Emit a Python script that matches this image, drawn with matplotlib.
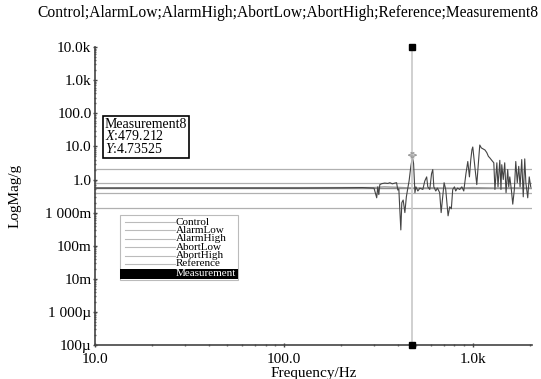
import matplotlib
matplotlib.use("Agg")
import matplotlib.pyplot as plt
from matplotlib.patches import Rectangle
from matplotlib.lines import Line2D

plt.rcParams['font.family'] = ['Liberation Serif', 'DejaVu Serif']
plt.rcParams['mathtext.fontset'] = 'custom'
plt.rcParams['mathtext.rm'] = 'Liberation Serif'
plt.rcParams['mathtext.it'] = 'Liberation Serif:italic'

# limit lines (g)
reference = 0.55
alarm_low, alarm_high = 0.39, 0.76
abort_low, abort_high = 0.138, 2.1

meas_freq = [10, 50, 120, 200, 260, 300, 310, 314, 318, 322, 330, 342, 355, 364,
             375, 387, 395, 401, 406, 411, 416, 421, 428, 437, 445, 453, 460, 470,
             479, 486, 494, 500, 512, 525, 544, 557, 570, 578, 592, 605, 614, 622,
             637, 650, 668, 680, 693, 705, 719, 740, 755, 770, 783, 800, 812, 830,
             853, 875, 896, 920, 941, 960, 976, 990, 1000, 1025, 1050, 1070, 1089,
             1110, 1130, 1160, 1186, 1210, 1231, 1260, 1292, 1310, 1341, 1360, 1390,
             1410, 1424, 1450, 1476, 1500, 1531, 1550, 1570, 1600, 1628, 1660, 1689,
             1720, 1751, 1780, 1816, 1850, 1884, 1910, 1954, 1990, 2027]
meas_val = [0.55, 0.55, 0.55, 0.56, 0.57, 0.55, 0.28, 0.6, 0.35, 0.7, 0.75, 0.78,
            0.76, 0.8, 0.74, 0.78, 0.8, 0.48, 0.52, 0.12, 0.03, 0.2, 0.24, 0.1,
            0.3, 0.55, 0.9, 2.5, 4.74, 3.0, 0.4, 0.6, 0.45, 0.55, 0.5, 0.9, 1.2,
            0.6, 0.5, 1.5, 2.0, 0.6, 0.45, 0.55, 0.4, 0.1, 0.3, 0.8, 0.5, 0.08,
            0.15, 0.13, 0.5, 0.6, 0.45, 0.55, 0.5, 0.6, 0.45, 1.5, 3.5, 1.2, 4.0,
            8.0, 9.6, 2.5, 0.7, 3.0, 11.0, 9.0, 8.5, 7.8, 6.5, 5.0, 4.5, 3.8, 3.2,
            0.5, 3.2, 0.6, 3.8, 0.5, 2.8, 1.0, 3.2, 0.4, 2.0, 0.6, 1.2, 0.5, 0.18,
            0.5, 3.5, 0.8, 2.5, 0.6, 4.0, 0.3, 4.2, 0.8, 0.28, 1.2, 0.6]

control_freq = [10, 300, 340, 400, 480, 600, 800, 1000, 1300, 1600, 2048]
control_val = [0.56, 0.57, 0.6, 0.58, 0.55, 0.56, 0.54, 0.57, 0.55, 0.56, 0.55]

cursor_x, cursor_y = 479.212, 4.73525

y_ticks = [1e-5, 1e-4, 1e-3, 1e-2, 1e-1, 1, 10, 100, 1e3, 1e4]
y_labels = ['100\u00b5', '1 000\u00b5', '10m', '100m', '1 000m', '1.0', '10.0',
            '100.0', '1.0k', '10.0k']
x_ticks = [10, 100, 1000]
x_labels = ['10.0', '100.0', '1.0k']
legend_names = ['Control', 'AlarmLow', 'AlarmHigh', 'AbortLow', 'AbortHigh',
                'Reference', 'Measurement']

fig = plt.figure(figsize=(5.41, 3.79), dpi=100)
ax = fig.add_axes([0.1756, 0.0897, 0.807, 0.786])
ax.set_xscale('log')
ax.set_yscale('log')
ax.set_xlim(10, 2048)
ax.set_ylim(1e-5, 1e4)

lim_col = '#b0b0b0'
for v in (alarm_low, alarm_high, abort_low, abort_high):
    ax.axhline(v, color=lim_col, lw=0.9)
ax.axhline(reference, color='#8a8a8a', lw=1.0)
ax.plot(control_freq, control_val, color='#9a9a9a', lw=1.0)
ax.plot(meas_freq, meas_val, color='#444444', lw=0.8)

# cursor
ax.axvline(cursor_x, color='#c8c8c8', lw=1.2)
ax.plot([cursor_x, cursor_x], [1e4, 1e-5], ls='none', marker='s', ms=5,
        color='black', clip_on=False, zorder=5)
ax.annotate('', xy=(cursor_x * 1.1, cursor_y * 1.15), xytext=(cursor_x / 1.1, cursor_y * 1.15),
            arrowprops=dict(arrowstyle='<->', color='#999999', lw=0.7))

for s in ('top', 'right'):
    ax.spines[s].set_visible(False)
for s in ('left', 'bottom'):
    ax.spines[s].set_color('#444444')
    ax.spines[s].set_linewidth(1.2)

ax.set_yticks(y_ticks)
ax.set_yticklabels(y_labels)
ax.set_xticks(x_ticks)
ax.set_xticklabels(x_labels)
ax.yaxis.set_minor_locator(matplotlib.ticker.LogLocator(subs='auto', numticks=20))
ax.yaxis.set_minor_formatter(matplotlib.ticker.NullFormatter())
ax.tick_params(axis='both', which='major', labelsize=11, length=3, width=1,
               color='#444444', direction='inout')
ax.tick_params(axis='y', which='major', pad=1)
ax.tick_params(axis='x', which='major', pad=4)
ax.tick_params(axis='both', which='minor', length=1.5, width=1, color='#666666',
               direction='inout')
ax.set_xlabel('Frequency/Hz', fontsize=11, labelpad=1)
ax.set_ylabel('LogMag/g', fontsize=11, labelpad=17)

fig.text(538 / 541, 0.965, 'Control;AlarmLow;AlarmHigh;AbortLow;AbortHigh;Reference;Measurement8',
         ha='right', va='center', fontsize=11.2)

# readout box
fig.text(105 / 541, 1 - 118 / 379, 'Measurement8\n$X$:479.212\n$Y$:4.73525',
         ha='left', va='top', fontsize=10, linespacing=0.85,
         bbox=dict(boxstyle='square,pad=0.15', fc='white', ec='black', lw=1.2))

# legend panel
W, H = 541.0, 379.0
fig.patches.append(Rectangle((120 / W, 1 - 280 / H), 118 / W, 65 / H,
                             transform=fig.transFigure, fc='white', ec='#bbbbbb', lw=0.8))
fig.patches.append(Rectangle((120 / W, 1 - 279 / H), 118 / W, 10 / H,
                             transform=fig.transFigure, fc='black', ec='black', lw=0))
for i, name in enumerate(legend_names):
    yy = 1 - (222 + i * 8.4) / H
    if name == 'Measurement':
        yy = 1 - 273.5 / H
    col = 'white' if name == 'Measurement' else 'black'
    if name != 'Measurement':
        fig.lines.append(Line2D([125 / W, 175 / W], [yy, yy], transform=fig.transFigure,
                                color='#bbbbbb', lw=0.8))
    fig.text(176 / W, yy, name, ha='left', va='center', fontsize=8, color=col)

fig.savefig('out.png', dpi=100)
